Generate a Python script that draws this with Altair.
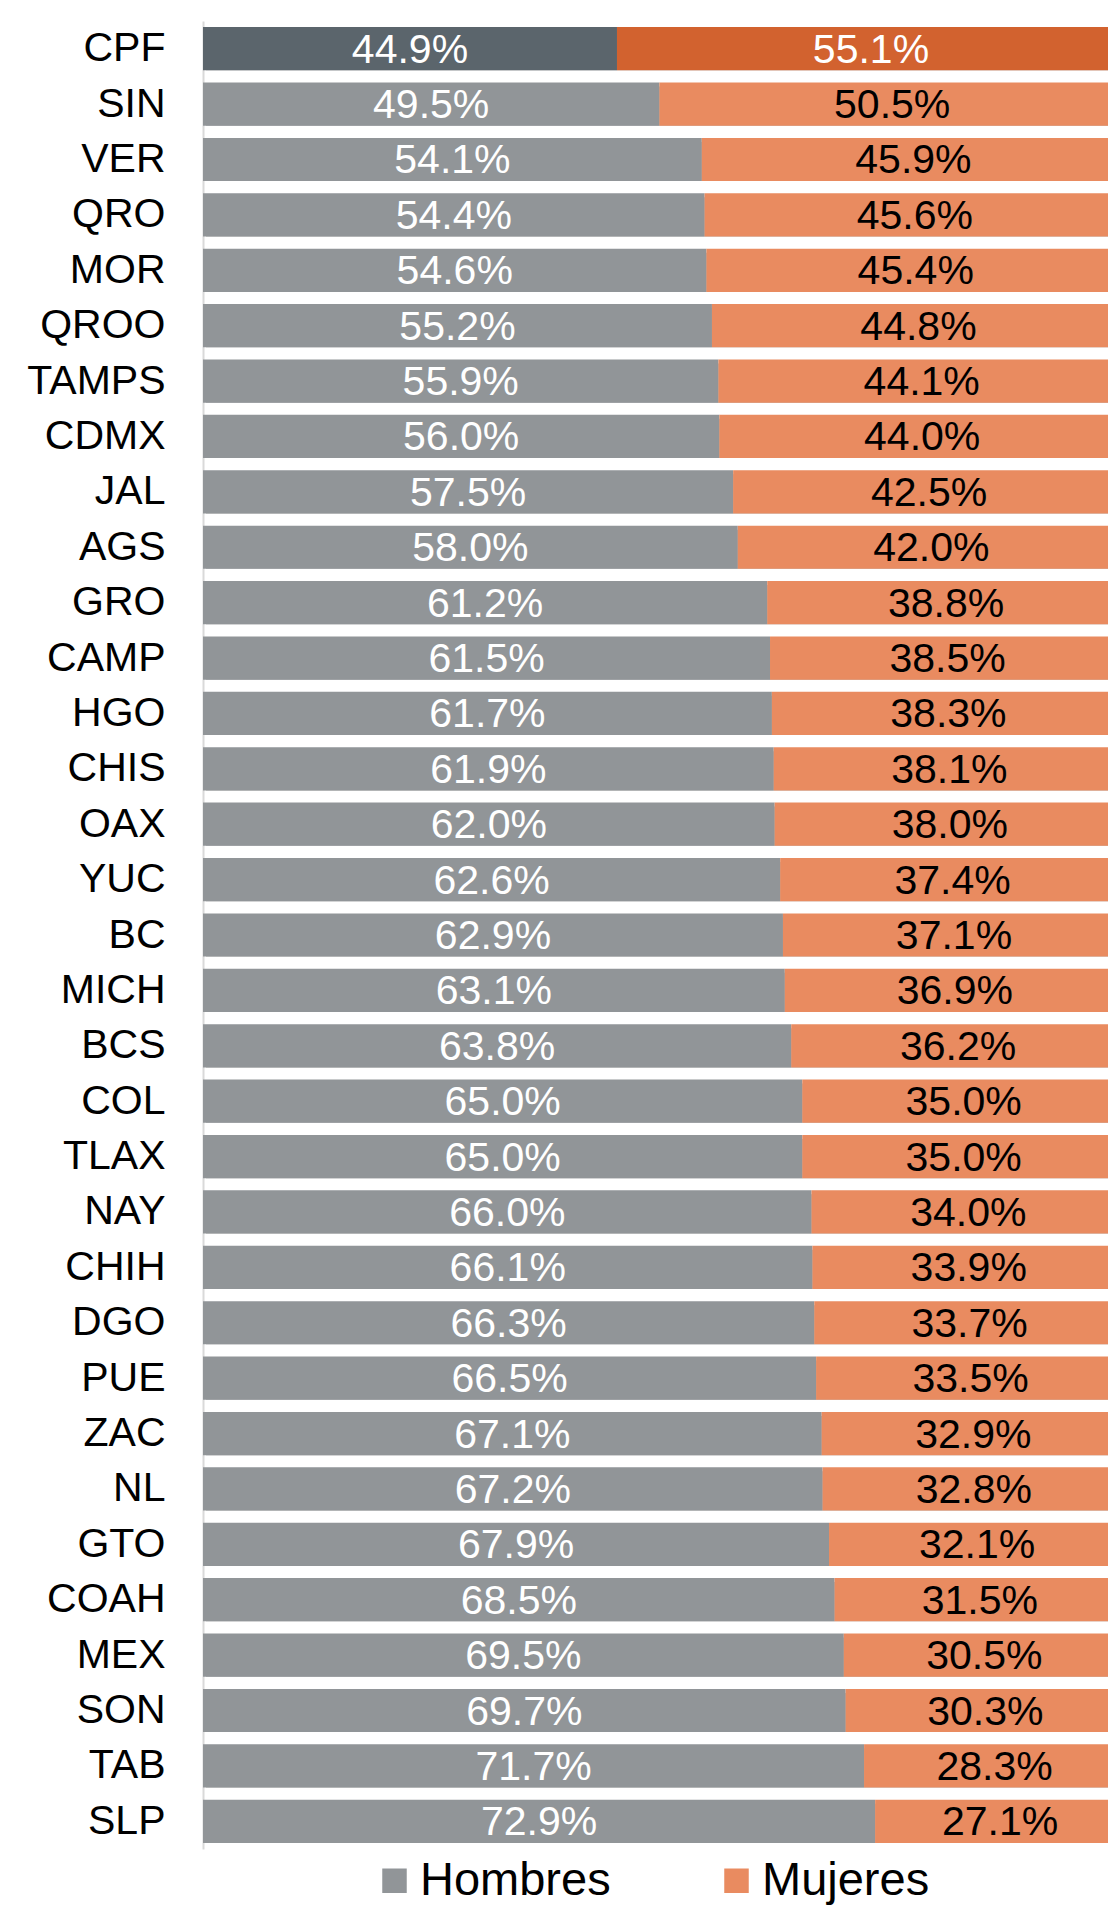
import altair as alt
import pandas as pd

estados = ["CPF", "SIN", "VER", "QRO", "MOR", "QROO", "TAMPS", "CDMX", "JAL", "AGS",
           "GRO", "CAMP", "HGO", "CHIS", "OAX", "YUC", "BC", "MICH", "BCS", "COL",
           "TLAX", "NAY", "CHIH", "DGO", "PUE", "ZAC", "NL", "GTO", "COAH", "MEX",
           "SON", "TAB", "SLP"]
hombres = [44.9, 49.5, 54.1, 54.4, 54.6, 55.2, 55.9, 56.0, 57.5, 58.0,
           61.2, 61.5, 61.7, 61.9, 62.0, 62.6, 62.9, 63.1, 63.8, 65.0,
           65.0, 66.0, 66.1, 66.3, 66.5, 67.1, 67.2, 67.9, 68.5, 69.5,
           69.7, 71.7, 72.9]
mujeres = [55.1, 50.5, 45.9, 45.6, 45.4, 44.8, 44.1, 44.0, 42.5, 42.0,
           38.8, 38.5, 38.3, 38.1, 38.0, 37.4, 37.1, 36.9, 36.2, 35.0,
           35.0, 34.0, 33.9, 33.7, 33.5, 32.9, 32.8, 32.1, 31.5, 30.5,
           30.3, 28.3, 27.1]
series = ["Hombres", "Mujeres"]

HALF = 0.39  # half bar thickness in row units

rows = []
for i, e in enumerate(estados):
    h, m = hombres[i], mujeres[i]
    cpf = e == "CPF"
    rows.append(dict(estado=e, idx=i, lo=i - HALF, hi=i + HALF, serie="Hombres",
                     start=0.0, end=h, mid=h / 2, label=f"{h:.1f}%",
                     fillc="#5b656c" if cpf else "#919598", textc="white"))
    rows.append(dict(estado=e, idx=i, lo=i - HALF, hi=i + HALF, serie="Mujeres",
                     start=h, end=h + m, mid=h + m / 2, label=f"{m:.1f}%",
                     fillc="#d2622f" if cpf else "#e98b60",
                     textc="white" if cpf else "black"))
df = pd.DataFrame(rows)

n = len(estados)
PLOT_W = 905
# the original chart is cropped at the right edge: 100% lies ~17px beyond the visible area
xmax = 100 * PLOT_W / 922
yscale = alt.Scale(domain=[-0.5, n - 0.5], reverse=True, nice=False, zero=False)
xscale = alt.Scale(domain=[0, xmax], nice=False, zero=True)

names_js = "[" + ",".join(f"'{e}'" for e in estados) + "]"
y_axis = alt.Axis(title=None, ticks=False, grid=False, values=list(range(n)),
                  labelExpr=f"{names_js}[datum.value]",
                  labelPadding=38, labelFontSize=41, labelColor="black",
                  labelFont="Liberation Sans", labelBaseline="middle",
                  domainColor="#d9d9d9", domainWidth=2, labelLimit=300,
                  labelOverlap=False, labelFlush=False)

base = alt.Chart(df)
men = base.transform_filter(alt.datum.serie == "Hombres")

shadow2 = men.mark_bar(yOffset=8, xOffset=3, color="#e3e3e3", clip=True).encode(
    y=alt.Y("lo:Q", scale=yscale, axis=y_axis),
    y2="hi:Q",
    x=alt.X("start:Q", scale=xscale, axis=None),
    x2=alt.value(PLOT_W + 20),
)
shadow1 = men.mark_bar(yOffset=4, xOffset=3, color="#b9b9b9", clip=True).encode(
    y=alt.Y("lo:Q", scale=yscale, axis=y_axis),
    y2="hi:Q",
    x=alt.X("start:Q", scale=xscale, axis=None),
    x2=alt.value(PLOT_W + 20),
)

bars = base.mark_bar(clip=True).encode(
    y=alt.Y("lo:Q", scale=yscale, axis=y_axis),
    y2="hi:Q",
    x=alt.X("start:Q", scale=xscale, axis=None),
    x2="end:Q",
    fill=alt.Fill("fillc:N", scale=None),
)

legend_src = base.mark_square(filled=True, opacity=0, size=1).encode(
    y=alt.Y("idx:Q", scale=yscale, axis=y_axis),
    x=alt.X("start:Q", scale=xscale, axis=None),
    color=alt.Color("serie:N", scale=alt.Scale(domain=series, range=["#919598", "#e98b60"]),
                    legend=alt.Legend(title=None, orient="none", direction="horizontal",
                                      legendX=168, legendY=1836,
                                      symbolType="square", symbolSize=600,
                                      symbolStrokeWidth=0, symbolOpacity=1,
                                      labelFontSize=47, labelFont="Liberation Sans",
                                      labelColor="black", labelOffset=2,
                                      columnPadding=102, labelLimit=400)),
)

text = base.mark_text(fontSize=41, font="Liberation Sans", baseline="middle",
                      align="center", dy=2).encode(
    y=alt.Y("idx:Q", scale=yscale, axis=y_axis),
    x=alt.X("mid:Q", scale=xscale, axis=None),
    text="label:N",
    color=alt.Color("textc:N", scale=None),
)

chart = alt.layer(shadow2, shadow1, bars, legend_src, text).properties(
    width=PLOT_W, height=1828,
    autosize=alt.AutoSizeParams(type="none"),
    padding={"left": 195, "top": 13, "right": 0, "bottom": 57},
).configure_view(stroke=None)

chart.save("out.html", embed_options={"renderer": "svg", "actions": False})
